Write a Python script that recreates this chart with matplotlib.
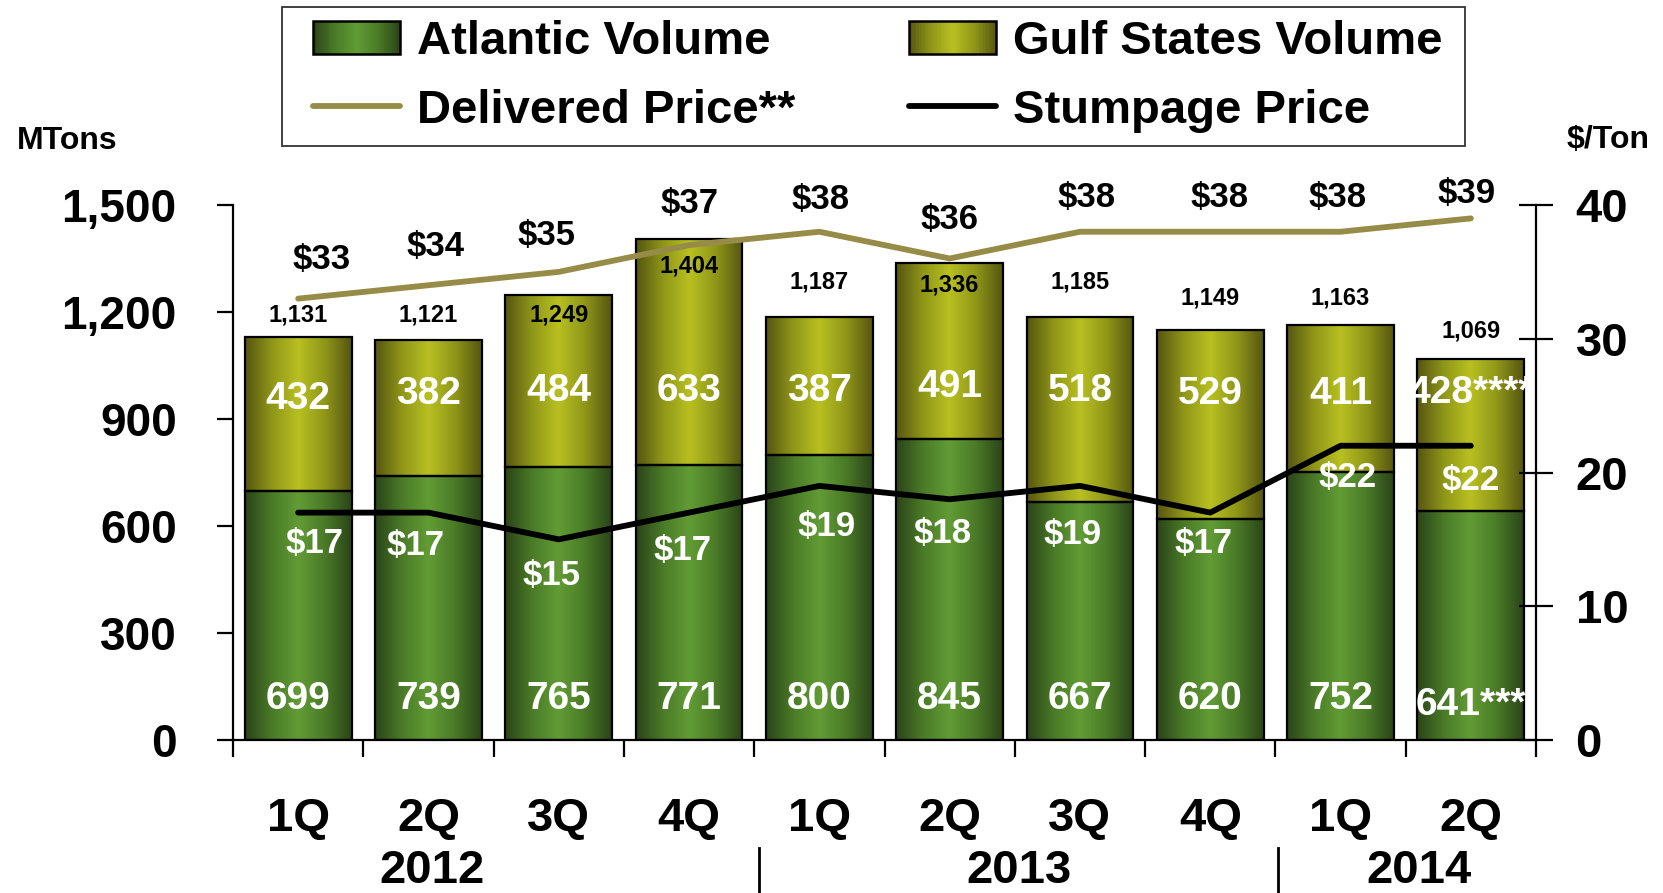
import numpy as np
import matplotlib
matplotlib.use('Agg')
import matplotlib.pyplot as plt
from matplotlib.colors import LinearSegmentedColormap
from matplotlib.patches import Rectangle
from matplotlib.lines import Line2D
from matplotlib.legend_handler import HandlerBase
from matplotlib.font_manager import FontProperties, findfont
import matplotlib.transforms as mtransforms

# ---------------- data ----------------
quarters = ['1Q', '2Q', '3Q', '4Q', '1Q', '2Q', '3Q', '4Q', '1Q', '2Q']
years = ['2012', '2013', '2014']
atlantic = [699, 739, 765, 771, 800, 845, 667, 620, 752, 641]
gulf = [432, 382, 484, 633, 387, 491, 518, 529, 411, 428]
totals = [1131, 1121, 1249, 1404, 1187, 1336, 1185, 1149, 1163, 1069]
delivered = [33, 34, 35, 37, 38, 36, 38, 38, 38, 39]
stumpage = [17, 17, 15, 17, 19, 18, 19, 17, 22, 22]
atlantic_labels = ['699', '739', '765', '771', '800', '845', '667', '620', '752', '641***']
gulf_labels = ['432', '382', '484', '633', '387', '491', '518', '529', '411', '428****']
volume_ticks = [0, 300, 600, 900, 1200, 1500]
price_ticks = [0, 10, 20, 30, 40]

# ---------------- layout ----------------
W, H = 1663, 893
year_x = [1.03, 5.53, 8.6]
separator_x = [3.54, 7.52]
total_label_y = [1191, 1191, 1191, 1329, 1285, 1276, 1285, 1240, 1240, 1147]
gulf_label_y = [955, 970, 979, 979, 979, 991, 979, 970, 970, 973]
atl_label_y = [114, 114, 114, 114, 114, 114, 114, 114, 114, 99]
deliv_dx = [17, 5, -9, 0, 1, 0, 5, 7, -2, -3]
deliv_dy = [28, 28, 26, 30, 23, 28, 25, 25, 25, 18]
stump_dx = [12, -9, -5, -5, 5, -5, -5, -5, 5, 0]
stump_dy = [22, 24, 26, 27, 29, 25, 35, 22, 23, 25]


def has_font(name):
    try:
        findfont(FontProperties(family=name), fallback_to_default=False)
        return True
    except Exception:
        return False


BASE = 'Liberation Sans' if has_font('Liberation Sans') else 'DejaVu Sans'

plt.rcParams['font.family'] = [BASE, 'DejaVu Sans']
plt.rcParams['font.weight'] = 'bold'

atl_cmap = LinearSegmentedColormap.from_list(
    'atl', ['#2a4418', '#4a7a27', '#629c35', '#4a7a27', '#2a4418'])
gulf_cmap = LinearSegmentedColormap.from_list(
    'gulf', ['#565510', '#8f9618', '#b8c021', '#8f9618', '#565510'])
DELIV_COLOR = '#978c47'

fig = plt.figure(figsize=(W / 100, H / 100), dpi=100)
ax = fig.add_axes([233 / W, 1 - 740 / H, 1303 / W, 535 / H])
ax2 = ax.twinx()

x = np.arange(len(quarters))
bw = 0.82
b1 = ax.bar(x, atlantic, width=bw, facecolor='none', edgecolor='black', linewidth=1.6, zorder=2)
b2 = ax.bar(x, gulf, bottom=atlantic, width=bw, facecolor='none', edgecolor='black', linewidth=1.6, zorder=2)

grad = np.linspace(0, 1, 256).reshape(1, -1)
for cont, cmap in ((b1, atl_cmap), (b2, gulf_cmap)):
    for p in cont.patches:
        x0, y0 = p.get_xy()
        im = ax.imshow(grad, cmap=cmap, extent=[x0, x0 + p.get_width(), y0, y0 + p.get_height()],
                       aspect='auto', zorder=1, interpolation='bicubic')
        im.set_clip_path(p)

ax.set_xlim(-0.5, len(quarters) - 0.5)
ax.set_ylim(0, 1500)
ax.set_yticks(volume_ticks)
ax.set_yticklabels([f'{v:,}' for v in volume_ticks])
ax.set_xticks(np.arange(-0.5, len(quarters), 1))
ax.set_xticklabels([])
ax.tick_params(axis='x', direction='out', length=12, width=1.6, color='black')
ax.tick_params(axis='y', direction='out', length=11.5, width=1.6, labelsize=33, pad=29)
for lab in ax.get_yticklabels():
    lab.set_fontweight('bold')
for s in ('top', 'right'):
    ax.spines[s].set_visible(False)
ax.spines['left'].set_linewidth(1.6)
ax.spines['bottom'].set_linewidth(1.6)

ax2.set_ylim(0, 40)
ax2.set_yticks(price_ticks)
ax2.tick_params(axis='y', direction='inout', length=25, width=1.6, labelsize=34, pad=16)
for lab in ax2.get_yticklabels():
    lab.set_fontweight('bold')
for s in ('top', 'left', 'bottom'):
    ax2.spines[s].set_visible(False)
ax2.spines['right'].set_linewidth(1.6)

ax2.plot(x, delivered, color=DELIV_COLOR, lw=4.2, solid_capstyle='round', solid_joinstyle='round', zorder=3)
ax2.plot(x, stumpage, color='black', lw=4.2, solid_capstyle='round', solid_joinstyle='round', zorder=3)

# volume labels
for i in x:
    ax.text(i, gulf_label_y[i], gulf_labels[i], ha='center', va='center', color='white',
            fontsize=28, fontweight='bold', zorder=5)
    ax.text(i, atl_label_y[i], atlantic_labels[i], ha='center', va='center', color='white',
            fontsize=28, fontweight='bold', zorder=5)
    ax.text(i, total_label_y[i], f'{totals[i]:,}', ha='center', va='center', color='black',
            fontsize=17, fontweight='bold', zorder=5)

# price labels
for i in x:
    ax2.annotate(f'${delivered[i]}', (i, delivered[i]), xytext=(deliv_dx[i], deliv_dy[i]),
                 textcoords='offset points', ha='center', va='center', fontsize=25,
                 fontweight='bold', color='black', zorder=6)
    ax2.annotate(f'${stumpage[i]}', (i, stumpage[i]), xytext=(stump_dx[i], -stump_dy[i]),
                 textcoords='offset points', ha='center', va='center', fontsize=25,
                 fontweight='bold', color='white', zorder=6)

# category labels
trans = mtransforms.blended_transform_factory(ax.transData, ax.transAxes)
for i, q in enumerate(quarters):
    ax.text(i, (740 - 819) / 535, q, transform=trans, ha='center', va='center',
            fontsize=34, fontweight='bold')
for xx, yr in zip(year_x, years):
    ax.text(xx, (740 - 871) / 535, yr, transform=trans, ha='center', va='center',
            fontsize=34, fontweight='bold')
for xx in separator_x:
    ax.add_line(Line2D([xx, xx], [(740 - 848) / 535, (740 - 893) / 535], transform=trans,
                       color='black', lw=2, clip_on=False))

fig.text(17 / W, 1 - 141 / H, 'MTons', fontsize=23, fontweight='bold', ha='left', va='center')
fig.text(1567 / W, 1 - 140 / H, '$/Ton', fontsize=23, fontweight='bold', ha='left', va='center')


class GradientHandler(HandlerBase):
    def __init__(self, cmap, **kw):
        super().__init__(**kw)
        self.cmap = cmap

    def create_artists(self, legend, orig_handle, xdescent, ydescent, width, height, fontsize, trans):
        n = 60
        arts = []
        for k in range(n):
            arts.append(Rectangle((-xdescent + width * k / n, -ydescent), width / n * 1.1, height,
                                  facecolor=self.cmap((k + 0.5) / n), edgecolor='none', transform=trans))
        arts.append(Rectangle((-xdescent, -ydescent), width, height, facecolor='none',
                              edgecolor='black', lw=1.8, transform=trans))
        return arts


# legend frame drawn explicitly
fig.add_artist(Rectangle((282 / W, 1 - 146 / H), (1465 - 282) / W, 139 / H, transform=fig.transFigure,
                         facecolor='white', edgecolor='#333333', lw=1.3, zorder=0))

h_atl = Rectangle((0, 0), 1, 1)
h_gulf = Rectangle((0, 0), 1, 1)
h_del = Line2D([], [], color=DELIV_COLOR, lw=4.2, solid_capstyle='round')
h_stu = Line2D([], [], color='black', lw=4.2, solid_capstyle='round')
leg = fig.legend([h_atl, h_del, h_gulf, h_stu],
                 ['Atlantic Volume', 'Delivered Price**', 'Gulf States Volume', 'Stumpage Price'],
                 ncol=2, loc='upper left', bbox_to_anchor=(313 / W, 1 - 20 / H),
                 bbox_transform=fig.transFigure, prop={'size': 34, 'weight': 'bold'},
                 frameon=False, borderpad=0, borderaxespad=0,
                 handlelength=1.85, handleheight=0.7, handletextpad=0.36, columnspacing=2.4,
                 labelspacing=0.52,
                 handler_map={h_atl: GradientHandler(atl_cmap), h_gulf: GradientHandler(gulf_cmap)})

fig.savefig('out.png', dpi=100)
